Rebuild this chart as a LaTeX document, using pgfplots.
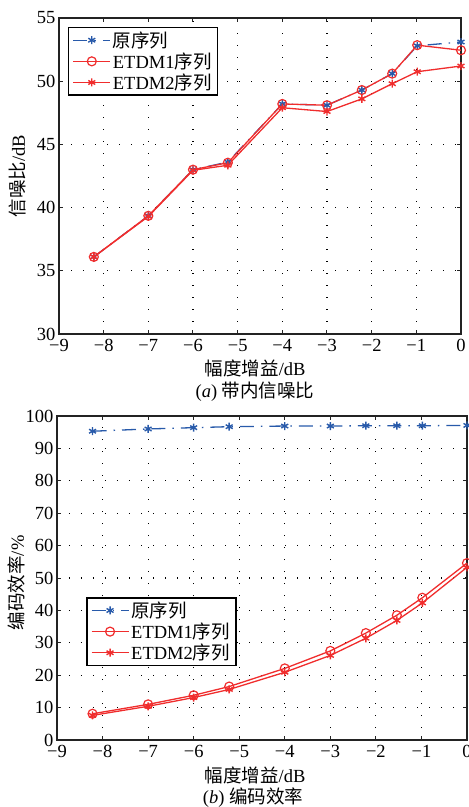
\documentclass[border=0pt]{standalone}
\usepackage{fontspec}
\setmainfont{Liberation Serif}
\newfontfamily\cjk{Noto Sans CJK SC}
\usepackage{pgfplots}
\pgfplotsset{compat=1.18}
\definecolor{mblue}{RGB}{40,90,170}
\definecolor{mred}{RGB}{240,45,45}
\definecolor{axgray}{RGB}{35,35,35}
\newcommand{\fs}{\fontsize{18.5}{20}\selectfont}
\pgfplotsset{
  mystyle/.style={
    scale only axis, clip=false,
    xmin=-9, xmax=0, xtick={-9,-8,...,0},
    xticklabels={−9,−8,−7,−6,−5,−4,−3,−2,−1,0},
    grid=major,
    major grid style={black, line width=1.1pt, dash pattern=on 1.1pt off 10.9pt},
    tick align=inside, xtick pos=both, ytick pos=both,
    major tick length=4pt,
    tick style={axgray, line width=1pt},
    axis line style={axgray, line width=1.8pt},
    tick label style={font=\fs},
    label style={font=\fs},
    xticklabel style={yshift=-2pt},
    yticklabel style={xshift=0pt},
    legend cell align=left,
    legend style={draw=black, line width=1.6pt, fill=white, font=\fs,
      inner xsep=4pt, inner ysep=2pt, row sep=0pt,
      nodes={inner sep=2pt}},
    legend image code/.code={\draw[mark repeat=2,mark phase=2,line width=1.3pt]
      plot coordinates {(0pt,0pt)(18.5pt,0pt)(37pt,0pt)};},
  },
  origs/.style={mblue, line width=1.3pt, dash pattern=on 14pt off 7pt on 1.5pt off 7pt,
     mark=asterisk, mark size=4pt, mark options={solid, line width=1.4pt}},
  e1s/.style={mred, line width=1.3pt, mark=o, mark size=4.5pt, mark options={solid, line width=1.2pt}},
  e2s/.style={mred, line width=1.3pt, mark=asterisk, mark size=4pt, mark options={solid, line width=1.4pt}},
}
\begin{document}
\begin{tikzpicture}
\path[use as bounding box] (0,0) rectangle (469pt,807pt);
% ---------------- top -----------------
\begin{axis}[mystyle, at={(59pt,473pt)}, anchor=south west,
  width=402pt, height=316pt,
  ymin=30, ymax=55, ytick={30,35,...,55},
  yticklabels={30,35,40,45,50,55},
  xlabel={{\cjk 幅度增益}/dB},
  xlabel style={at={(axis description cs:0.488,-0.108)}, anchor=center},
  ylabel={{\cjk 信噪比}/dB},
  ylabel style={at={(axis description cs:-0.102,0.5)}, anchor=center},
  legend style={at={(rel axis cs:0.022,0.972)}, anchor=north west},
]
\addplot[origs] coordinates {(-8.22,36.1)(-7,39.35)(-6,43.0)(-5.22,43.6)(-4,48.2)(-3,48.1)(-2.22,49.3)(-1.54,50.6)(-0.98,52.8)(0,53.1)};
\addlegendentry{{\cjk 原序列}}
\addplot[e1s] coordinates {(-8.22,36.1)(-7,39.35)(-6,43.0)(-5.22,43.55)(-4,48.2)(-3,48.1)(-2.22,49.3)(-1.54,50.6)(-0.98,52.85)(0,52.45)};
\addlegendentry{ETDM1{\cjk 序列}}
\addplot[e2s] coordinates {(-8.22,36.1)(-7,39.3)(-6,42.95)(-5.22,43.35)(-4,47.9)(-3,47.6)(-2.22,48.6)(-1.54,49.8)(-0.98,50.75)(0,51.2)};
\addlegendentry{ETDM2{\cjk 序列}}
\end{axis}
\node[font=\fs] at (255pt,415pt) {(\textit{a}) {\cjk 带内信噪比}};
% ---------------- bottom -----------------
\begin{axis}[mystyle, at={(57pt,67pt)}, anchor=south west,
  width=410pt, height=324pt,
  ymin=0, ymax=100, ytick={0,10,...,100},
  yticklabels={0,10,20,30,40,50,60,70,80,90,100},
  xlabel={{\cjk 幅度增益}/dB},
  xlabel style={at={(axis description cs:0.483,-0.108)}, anchor=center},
  ylabel={{\cjk 编码效率}/\%},
  ylabel style={at={(axis description cs:-0.098,0.485)}, anchor=center},
  legend style={at={(rel axis cs:0.071,0.441)}, anchor=north west},
]
\addplot[origs] coordinates {(-8.22,95.3)(-7,96.0)(-6,96.4)(-5.22,96.7)(-4,96.9)(-3,96.9)(-2.22,97.0)(-1.54,97.0)(-0.98,97.0)(0,97.1)};
\addlegendentry{{\cjk 原序列}}
\addplot[e1s] coordinates {(-8.22,8.1)(-7,11.0)(-6,13.8)(-5.22,16.5)(-4,22.1)(-3,27.5)(-2.22,33.0)(-1.54,38.5)(-0.98,43.9)(0,54.6)};
\addlegendentry{ETDM1{\cjk 序列}}
\addplot[e2s] coordinates {(-8.22,7.6)(-7,10.4)(-6,13.1)(-5.22,15.6)(-4,20.9)(-3,26.1)(-2.22,31.4)(-1.54,36.9)(-0.98,42.3)(0,53.3)};
\addlegendentry{ETDM2{\cjk 序列}}
\end{axis}
\node[font=\fs] at (253pt,9pt) {(\textit{b}) {\cjk 编码效率}};
\end{tikzpicture}
\end{document}
